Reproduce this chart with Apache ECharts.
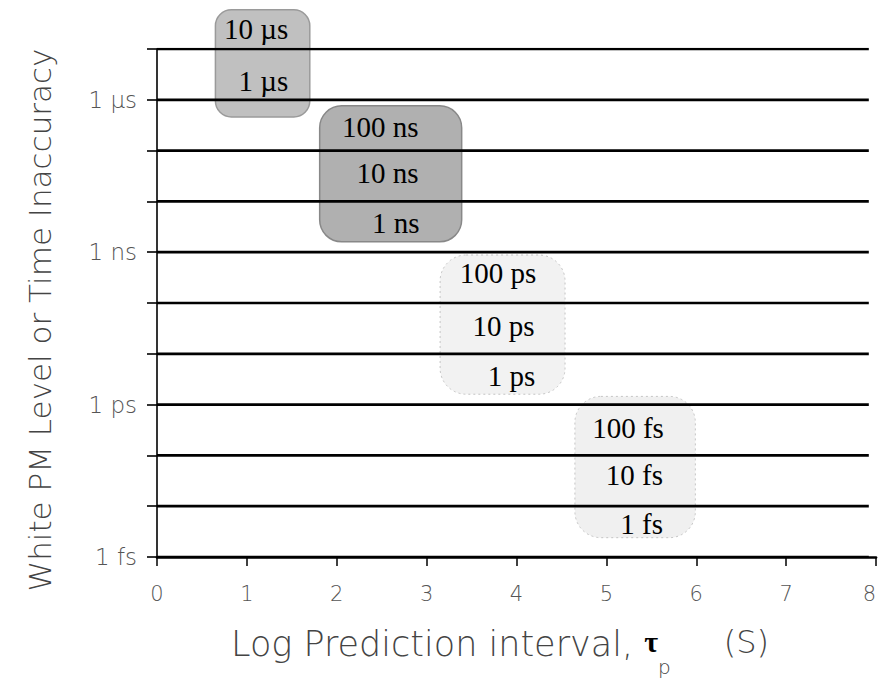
<!DOCTYPE html>
<html>
<head>
<meta charset="utf-8">
<script src="https://cdn.jsdelivr.net/npm/echarts@6/dist/echarts.min.js"></script>
<style>
html,body{margin:0;padding:0;background:#fff;}
#c{width:880px;height:681px;}
</style>
</head>
<body>
<div id="c"></div>
<script>
// ---- data ----
const decadeValues = [1e-15,1e-14,1e-13,1e-12,1e-11,1e-10,1e-9,1e-8,1e-7,1e-6,1e-5];
const lineEndX = 7.92;
const yTickLabelExponents = [-6,-9,-12,-15];
const yTickLabelTexts = ['1 µs','1 ns','1 ps','1 fs'];

const boxLeft   = [0.65, 1.81, 3.15, 4.65];
const boxRight  = [1.70, 3.39, 4.54, 5.99];
const boxTop    = [5.9e-5, 7.6e-7, 8.8e-10, 1.45e-12];
const boxBottom = [4.6e-7, 1.6e-9, 1.6e-12, 2.4e-15];

const labelTexts  = ['10 µs','1 µs','100 ns','10 ns','1 ns','100 ps','10 ps','1 ps','100 fs','10 fs','1 fs'];
const labelRightX = [1.46, 1.46, 2.91, 2.91, 2.92, 4.22, 4.20, 4.21, 5.64, 5.63, 5.63];
const labelY      = [2.5e-5, 2.3e-6, 2.92e-7, 3.6e-8, 3.8e-9, 3.89e-10, 3.55e-11, 3.65e-12, 3.4e-13, 4.11e-14, 4.5e-15];

// ---- styles ----
const boxStyles = [
  {fill:'#c0c0c0', stroke:'#9a9a9a', lw:1.5, r:16},
  {fill:'#b0b0b0', stroke:'#888888', lw:1.5, r:22},
  {fill:'#f2f2f2', stroke:'#c4c4c4', lw:1, r:26, dash:[2,3]},
  {fill:'#f0f0f0', stroke:'#c4c4c4', lw:1, r:26, dash:[2,3]}
];
const sansFont = '"DejaVu Sans", "Liberation Sans", sans-serif';

const chart = echarts.init(document.getElementById('c'), null, {renderer:'svg', width:880, height:681});

const lineSeries = decadeValues.map(v => ({
  type:'line', data:[[0, v], [lineEndX, v]], symbol:'none', silent:true, animation:false,
  lineStyle:{color:'#000', width:2.7}, z:3
}));

const option = {
  backgroundColor:'#fff',
  animation:false,
  grid:{left:157, right:4, top:49, bottom:124, containLabel:false, outerBoundsMode:'none'},
  xAxis:{
    type:'value', min:0, max:8, interval:1,
    axisLine:{show:true, onZero:false, lineStyle:{color:'#000', width:2.7}},
    axisTick:{show:true, inside:false, length:9, lineStyle:{color:'#000', width:1.5}},
    axisLabel:{color:'#555', fontSize:21, fontFamily:sansFont, fontWeight:200, margin:26, alignMaxLabel:'right'},
    splitLine:{show:false},
    name:'{a|Log Prediction interval, }{tau|τ}{sub|p}{gap|}{s|(S)}',
    nameLocation:'middle', nameGap:69, nameMoveOverlap:false,
    nameTextStyle:{
      padding:[0,33,0,0],
      rich:{
        a:{fontSize:35, fontFamily:sansFont, fontWeight:200, color:'#444', lineHeight:40, verticalAlign:'top'},
        tau:{fontSize:30, fontFamily:'"Liberation Serif", serif', fontWeight:'bold', color:'#000', lineHeight:40, verticalAlign:'top'},
        sub:{fontSize:20, fontFamily:sansFont, fontWeight:200, color:'#444', lineHeight:20, padding:[31,0,0,0], verticalAlign:'top'},
        gap:{width:53, lineHeight:40, verticalAlign:'top'},
        s:{fontSize:32, fontFamily:sansFont, fontWeight:200, color:'#444', lineHeight:40, verticalAlign:'top'}
      }
    }
  },
  yAxis:{
    type:'log', logBase:10, min:1e-15, max:1e-5, splitNumber:10,
    axisLine:{show:true, onZero:false, lineStyle:{color:'#000', width:1.6}},
    axisTick:{show:true, inside:false, length:10, lineStyle:{color:'#000', width:1.6}},
    axisLabel:{
      color:'#555', fontSize:23, fontFamily:sansFont, fontWeight:200, margin:20,
      showMinLabel:true, showMaxLabel:true,
      formatter:function(v){
        const e = Math.round(Math.log10(v));
        const k = yTickLabelExponents.indexOf(e);
        return k >= 0 ? yTickLabelTexts[k] : '';
      }
    },
    splitLine:{show:false},
    name:'White PM Level or Time Inaccuracy',
    nameLocation:'middle', nameGap:99, nameMoveOverlap:false,
    nameTextStyle:{fontSize:31, fontFamily:sansFont, fontWeight:200, color:'#444', lineHeight:36, padding:[0,34,0,0]}
  },
  series:[
    {
      type:'custom', clip:false, silent:true, z:2,
      data: boxLeft.map((l,i)=>[l, boxRight[i], boxTop[i], boxBottom[i]]),
      encode:{x:[0,1], y:[2,3]},
      renderItem:function(params, api){
        const s = boxStyles[params.dataIndex];
        const p0 = api.coord([api.value(0), api.value(2)]);
        const p1 = api.coord([api.value(1), api.value(3)]);
        return {
          type:'rect',
          shape:{x:p0[0], y:p0[1], width:p1[0]-p0[0], height:p1[1]-p0[1], r:s.r},
          style:{fill:s.fill, stroke:s.stroke, lineWidth:s.lw, lineDash:s.dash || null}
        };
      }
    }
  ].concat(lineSeries).concat([
    {
      type:'custom', clip:false, silent:true, z:5,
      data: labelRightX.map((x,i)=>[x, labelY[i]]),
      encode:{x:0, y:1},
      renderItem:function(params, api){
        const p = api.coord([api.value(0), api.value(1)]);
        return {
          type:'text', x:p[0], y:p[1],
          style:{
            text: labelTexts[params.dataIndex],
            font:'29px "Liberation Serif", serif',
            fill:'#000',
            align:'right', verticalAlign:'middle',
            textAlign:'right', textVerticalAlign:'middle'
          }
        };
      }
    }
  ])
};
chart.setOption(option);
</script>
</body>
</html>
